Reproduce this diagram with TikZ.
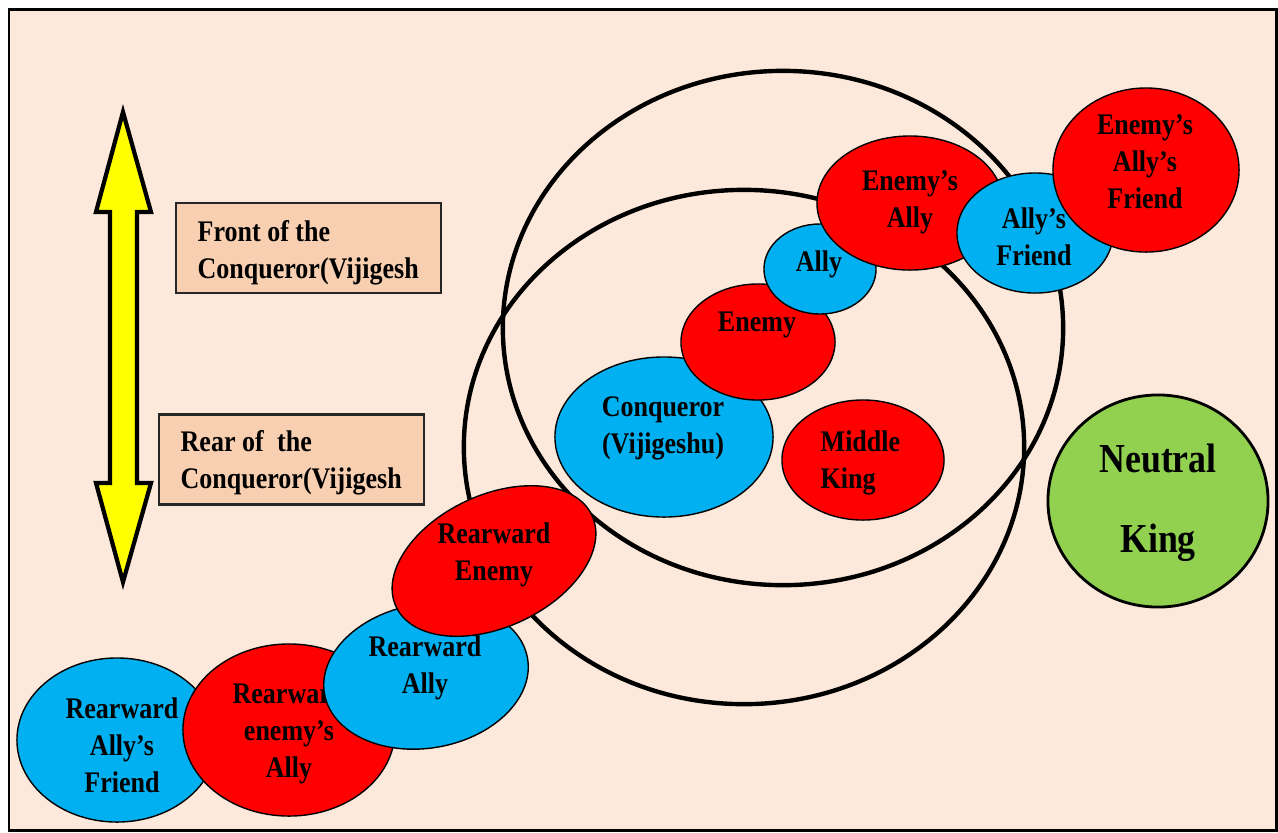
\documentclass[tikz,border=0pt]{standalone}
\usepackage{fontspec}
\setmainfont{Liberation Serif}[FakeStretch=0.87]
\usetikzlibrary{shapes.geometric}
\definecolor{bgpeach}{RGB}{252,233,219}
\definecolor{boxpeach}{RGB}{248,207,176}
\definecolor{kblue}{RGB}{0,176,240}
\definecolor{kred}{RGB}{255,0,0}
\definecolor{kgreen}{RGB}{146,208,80}
\definecolor{kyellow}{RGB}{255,255,0}
\begin{document}
\begin{tikzpicture}[x=0.01cm,y=-0.01cm]
        \tikzstyle{every node} = [inner sep=0pt]
        \tikzstyle{lbl} = [font=\bfseries\fontsize{8.5}{10.5}\selectfont, align=center]
        \tikzstyle{king} = [ellipse, draw=black, line width=0.4pt]
        \tikzstyle{bluek} = [king, fill=kblue]
        \tikzstyle{redk} = [king, fill=kred]
        \tikzstyle{ring} = [ellipse, draw=black, line width=1.25pt]
        \tikzstyle{sidebox} = [draw=black!85, line width=0.6pt, fill=boxpeach,
            minimum width=2.65cm, minimum height=0.9cm]

        \useasboundingbox (0,0) rectangle (1278,832);
        \fill[bgpeach] (9,9) rectangle (1276,830);
        \draw[line width=0.85pt] (9,9) rectangle (1276,830);

        % circles of states
        \node[ring, minimum width=5.6cm, minimum height=5.14cm] (outer) at (783,328) {};
        \node[ring, minimum width=5.6cm, minimum height=5.14cm] (inner) at (744,447) {};

        % front / rear arrow
        \draw[fill=kyellow, line width=1.2pt, line join=miter]
            (123,112) -- (151,212) -- (137,212) -- (137,483) -- (151,483) -- (123,582)
            -- (96,483) -- (110,483) -- (110,212) -- (96,212) -- cycle;
        \node[sidebox] (front) at (308.5,248) {};
        \node[lbl, align=left, anchor=west] (frontt) at (197,253) {Front of the\\Conqueror(Vijigesh};
        \node[sidebox] (rear) at (291.5,459.5) {};
        \node[lbl, align=left, anchor=west] (reart) at (180,463) {Rear of\hspace{0.45em}the\\Conqueror(Vijigesh};

        % front kings
        \node[bluek, minimum width=2.18cm, minimum height=1.6cm] (conq) at (664,437) {};
        \node[lbl] (conqt) at (663,428) {Conqueror\\(Vijigeshu)};
        \node[redk, minimum width=1.54cm, minimum height=1.16cm] (enemy) at (758,342) {};
        \node[lbl] (enemyt) at (757,325) {Enemy};
        \node[bluek, minimum width=1.12cm, minimum height=0.9cm] (ally) at (820,269) {};
        \node[lbl] (allyt) at (819,264) {Ally};
        \node[redk, minimum width=1.86cm, minimum height=1.34cm] (enally) at (910,203) {};
        \node[lbl] (enallyt) at (910,202) {Enemy’s\\Ally};
        \node[bluek, minimum width=1.56cm, minimum height=1.2cm] (allyfr) at (1035,233) {};
        \node[lbl] (allyfrt) at (1034,237) {Ally’s\\Friend};
        \node[redk, minimum width=1.86cm, minimum height=1.64cm] (enallyfr) at (1146,170) {};
        \node[lbl] (enallyfrt) at (1145,162) {Enemy’s\\Ally’s\\Friend};
        \node[redk, minimum width=1.62cm, minimum height=1.2cm] (middle) at (863,460) {};
        \node[lbl, align=left, anchor=west] (middlet) at (820,463) {Middle\\King};

        % neutral
        \node[ellipse, draw=black, line width=0.8pt, fill=kgreen,
            minimum width=2.2cm, minimum height=2.12cm] (neutral) at (1158,501) {};
        \node[font=\bfseries\fontsize{11.7}{22.8}\selectfont, align=center] (neutralt) at (1158,503) {Neutral\\King};

        % rear kings
        \node[bluek, minimum width=2cm, minimum height=1.64cm] (rallyfr) at (117,740) {};
        \node[lbl] (rallyfrt) at (122,745) {Rearward\\Ally’s\\Friend};
        \node[redk, minimum width=2.12cm, minimum height=1.72cm] (renally) at (289,730) {};
        \node[lbl] (renallyt) at (289,733) {Rearward\\enemy’s\\Ally};
        \node[bluek, rotate=10, minimum width=2.06cm, minimum height=1.44cm] (rally) at (426,676) {};
        \node[lbl] (rallyt) at (425,668) {Rearward\\Ally};
        \node[redk, rotate=25, minimum width=2.16cm, minimum height=1.32cm] (renemy) at (494,561) {};
        \node[lbl] (renemyt) at (494,555) {Rearward\\Enemy};
\end{tikzpicture}
\end{document}
